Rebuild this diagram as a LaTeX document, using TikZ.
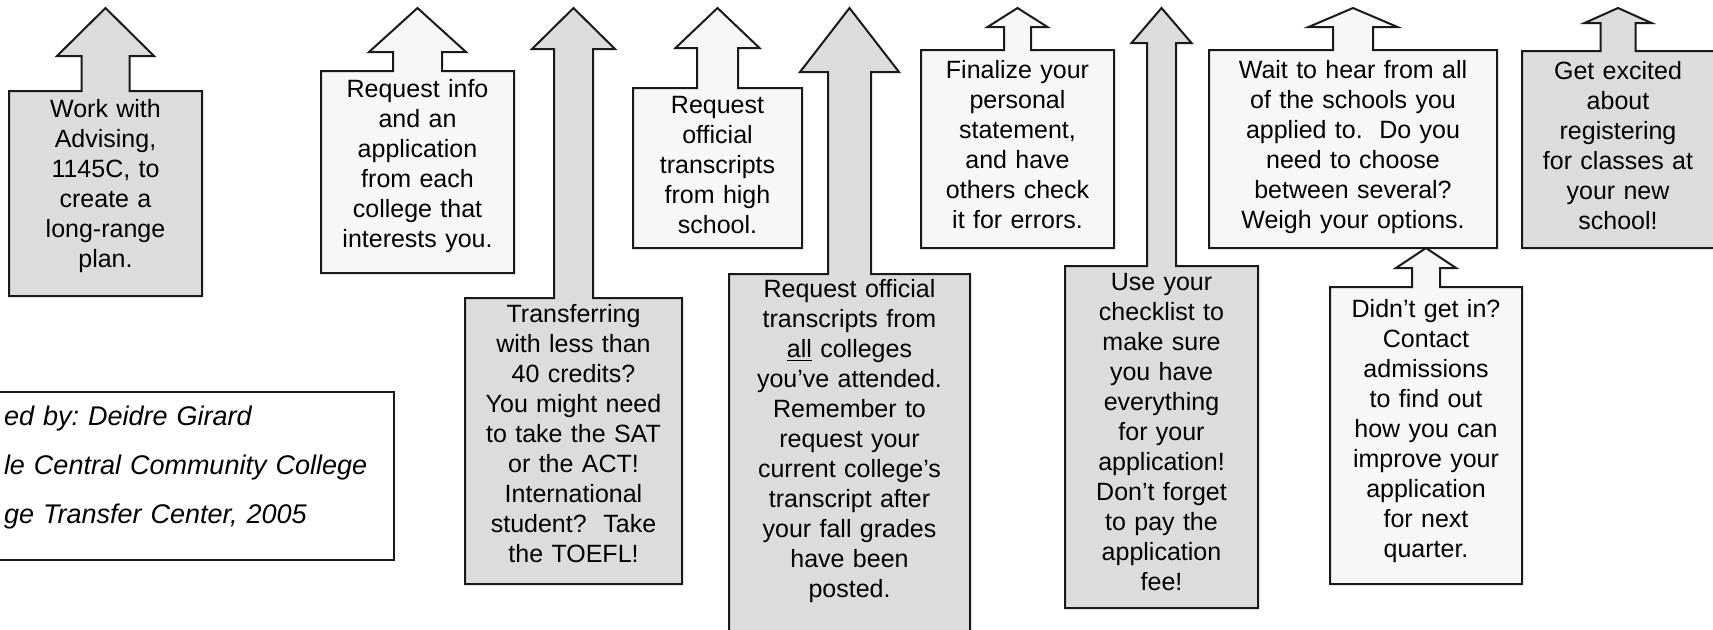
\documentclass[tikz,border=0pt]{standalone}
\usepackage{fontspec}
\setmainfont{Liberation Sans}
\usepackage{xcolor}
\usepackage{tikz}
\usetikzlibrary{positioning, calc, backgrounds}
\definecolor{darkfill}{RGB}{220,220,220}
\definecolor{lightfill}{RGB}{247,247,247}
\tikzstyle{stepbox} = [rectangle, inner sep=0pt, outer sep=0pt, align=center, anchor=north, text height=13pt]
\tikzstyle{boxline} = [line width=1pt, draw=black!90]
\tikzstyle{every node}=[font=\fontsize{12.5}{15}\selectfont]
% box outline with its up arrow: node, fill, stem half width, head half width, stem length, head height
\newcommand{\upcallout}[6]{%
	\draw [boxline, fill=#2] (#1.north west) -- ($(#1.north)+(-#3,0)$) -- ++(0,-#5) -- ++(#3-#4,0) -- ++(#4,-#6) -- ++(#4,#6) -- ++(#3-#4,0) -- ++(0,#5) -- (#1.north east) -- (#1.south east) -- (#1.south west) -- cycle;}

\begin{document}
\begin{tikzpicture}[x=0.5pt, y=-0.5pt]
			\useasboundingbox (0,0) rectangle (1713,629);
			
			\node (advise) [stepbox, text width=96.5pt, text depth=89.5pt] at (105.5,91) {Work with\\Advising,\\1145C, to\\create a\\long-range\\plan.};
			\node (info) [stepbox, text width=96.5pt, text depth=88pt] at (417.5,71) {Request info\\and an\\application\\from each\\college that\\interests you.};
			\node (tests) [stepbox, text width=108.5pt, text height=12pt, text depth=131pt] at (573.5,298) {Transferring\\with less than\\40 credits?\\You might need\\to take the SAT\\or the ACT!\\International\\student?~~Take\\the TOEFL!};
			\node (hsrec) [stepbox, text width=84.5pt, text height=12.5pt, text depth=67.5pt] at (717.5,88) {Request\\official\\transcripts\\from high\\school.};
			\node (collrec) [stepbox, text width=120.5pt, text height=11.5pt, text depth=167.5pt] at (849.5,274) {Request official\\transcripts from\\\underline{all} colleges\\you’ve attended.\\Remember to\\request your\\current college’s\\transcript after\\your fall grades\\have been\\posted.};
			\node (essay) [stepbox, text width=96.5pt, text height=14pt, text depth=85pt] at (1017.5,50) {Finalize your\\personal\\statement,\\and have\\others check\\it for errors.};
			\node (check) [stepbox, text width=96.5pt, text height=12pt, text depth=159pt] at (1161.5,266) {Use your\\checklist to\\make sure\\you have\\everything\\for your\\application!\\Don’t forget\\to pay the\\application\\fee!};
			\node (wait) [stepbox, text width=144pt, text height=14pt, text depth=85pt] at (1353,50) {Wait to hear from all\\of the schools you\\applied to.~~Do you\\need to choose\\between several?\\Weigh your options.};
			\node (retry) [stepbox, text width=96pt, text height=15pt, text depth=133.5pt] at (1426,287) {Didn’t get in?\\Contact\\admissions\\to find out\\how you can\\improve your\\application\\for next\\quarter.};
			\node (excited) [stepbox, text width=96pt, text height=14pt, text depth=84.5pt] at (1618,51) {Get excited\\about\\registering\\for classes at\\your new\\school!};
			
			% credits, cut by the left edge
			\node (credits) [boxline, fill=white, anchor=north west, align=left, text width=186pt, inner xsep=9pt, inner ysep=0pt, outer sep=0pt, text height=16.5pt, text depth=67.5pt, font=\frenchspacing\itshape\fontsize{13.5}{24.5}\selectfont] at (-14,392) {ed by: Deidre Girard\\le Central Community College\\ge Transfer Center, 2005};
			
			%outlines behind the text
			\begin{scope}[on background layer]
				\upcallout{advise}{darkfill}{24}{48.5}{35}{48}
				\upcallout{info}{lightfill}{24.5}{48.5}{19}{44}
				\upcallout{tests}{darkfill}{19.5}{41.5}{249}{41}
				\upcallout{hsrec}{lightfill}{20.5}{42}{40}{40}
				\upcallout{collrec}{darkfill}{21.5}{49.5}{202}{64}
				\upcallout{essay}{lightfill}{13.5}{30}{23}{19}
				\upcallout{check}{darkfill}{14.5}{30}{223}{35}
				\upcallout{wait}{lightfill}{20}{44.5}{23}{19}
				\upcallout{retry}{lightfill}{14}{30}{19}{20}
				\upcallout{excited}{darkfill}{17.5}{33.5}{28}{15}
			\end{scope}
			
		\end{tikzpicture}
\end{document}
